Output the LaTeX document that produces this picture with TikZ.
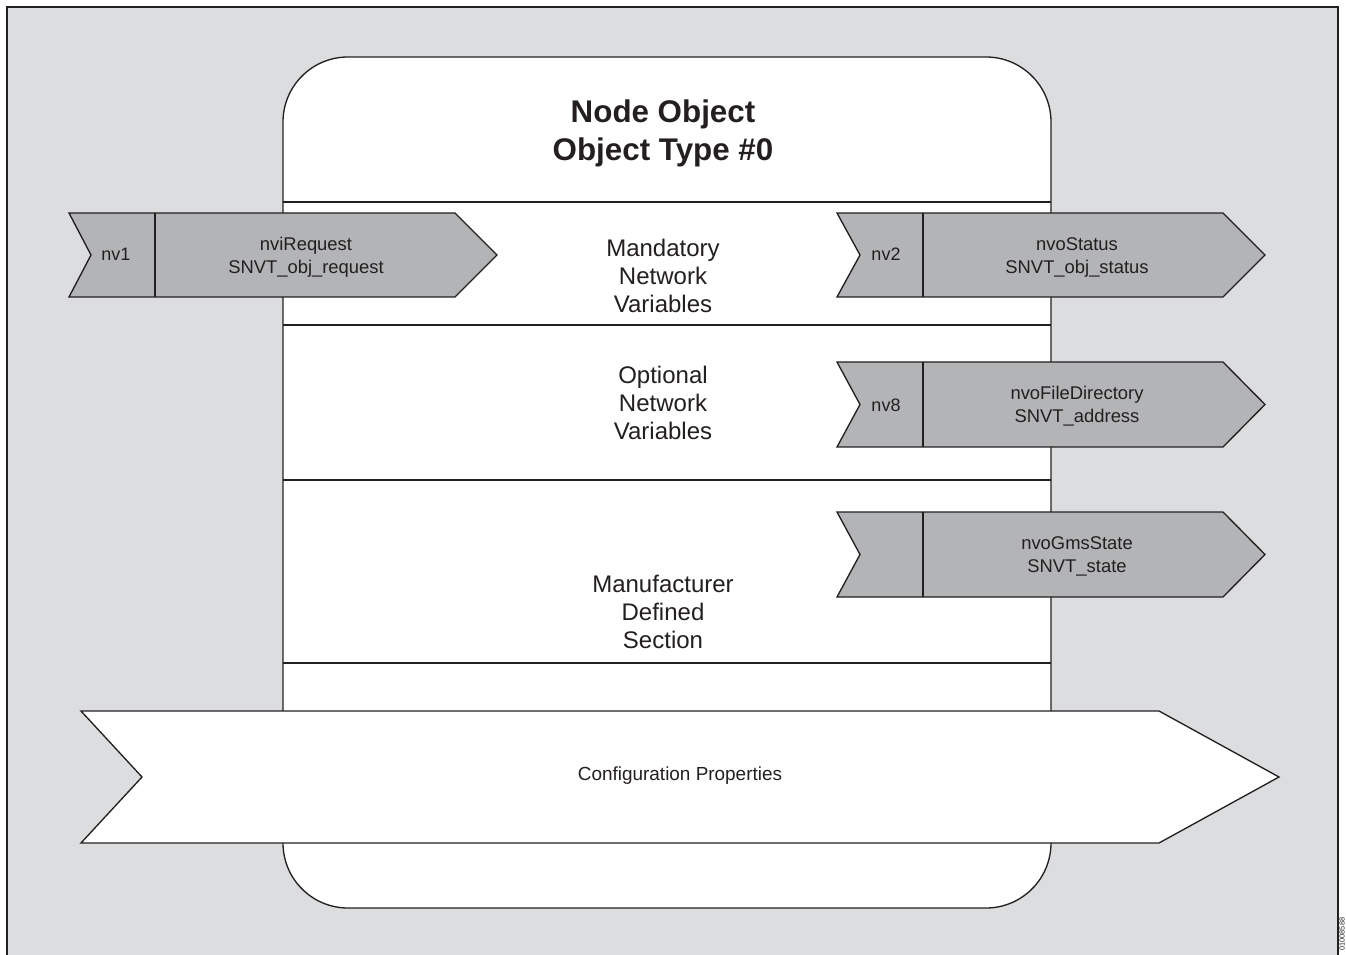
\documentclass[tikz,border=0pt]{standalone}
\usepackage{fontspec}
\setmainfont{Liberation Sans}
\definecolor{bgc}{HTML}{DCDDDF}
\definecolor{nvc}{HTML}{B2B4B6}
\definecolor{ink}{HTML}{231F20}
\begin{document}
\begin{tikzpicture}[x=0.75pt,y=-0.75pt,
  frame/.style={draw=ink,line width=1.5pt},
  boxline/.style={draw=ink,line width=1pt},
  nvshape/.style={draw=ink,fill=nvc,line width=1pt,line join=miter},
  cfgshape/.style={draw=ink,fill=white,line width=1pt,line join=miter},
  title/.style={font=\fontsize{23.5}{28.5}\selectfont\bfseries,text=ink,align=center},
  section/.style={font=\fontsize{18}{21}\selectfont,text=ink,align=center},
  nvlabel/.style={font=\fontsize{13.8}{17.25}\selectfont,text=ink,align=center},
  cfglabel/.style={font=\fontsize{14.2}{17}\selectfont,text=ink},
  nvnum/.style={font=\fontsize{13.5}{15}\selectfont,text=ink}]
\useasboundingbox (0,0) rectangle (1346,955);
% background frame
\fill[bgc] (7,7) rectangle (1338,956);
\draw[frame] (7,956) -- (7,7) -- (1338,7) -- (1338,956);
% node object box
\draw[boxline,fill=white,rounded corners=65pt*0.75] (283,57) rectangle (1051,908);
\draw[boxline] (283,202) -- (1051,202);
\draw[boxline] (283,325) -- (1051,325);
\draw[boxline] (283,480) -- (1051,480);
\draw[boxline] (283,663) -- (1051,663);
\node[title] (ttl) at (663,133) {Node Object\\Object Type \#0};
\node[section] (mand) at (663,276) {Mandatory\\Network\\Variables};
\node[section] (opt) at (663,403) {Optional\\Network\\Variables};
\node[section] (manu) at (663,612) {Manufacturer\\Defined\\Section};
% nv1
\draw[nvshape] (69,213) -- (455,213) -- (497,255) -- (455,297) -- (69,297) -- (91,255) -- cycle;
\draw[boxline] (155,213) -- (155,297);
\node[nvnum] (n1) at (116,254) {nv1};
\node[nvlabel] (l1) at (306,257) {nviRequest\\SNVT\_obj\_request};
% nv2
\draw[nvshape] (837,213) -- (1223,213) -- (1265,255) -- (1223,297) -- (837,297) -- (860,255) -- cycle;
\draw[boxline] (923,213) -- (923,297);
\node[nvnum] (n2) at (886,254) {nv2};
\node[nvlabel] (l2) at (1077,257) {nvoStatus\\SNVT\_obj\_status};
% nv8
\draw[nvshape] (837,362) -- (1223,362) -- (1265,404.5) -- (1223,447) -- (837,447) -- (860,404.5) -- cycle;
\draw[boxline] (923,362) -- (923,447);
\node[nvnum] (n8) at (886,405) {nv8};
\node[nvlabel] (l8) at (1077,406) {nvoFileDirectory\\SNVT\_address};
% gms
\draw[nvshape] (837,512) -- (1223,512) -- (1265,554.5) -- (1223,597) -- (837,597) -- (860,554.5) -- cycle;
\draw[boxline] (923,512) -- (923,597);
\node[nvlabel] (lg) at (1077,556) {nvoGmsState\\SNVT\_state};
% configuration properties
\draw[cfgshape] (81,711) -- (1159,711) -- (1279,777) -- (1159,843) -- (81,843) -- (142,777) -- cycle;
\node[cfglabel] (cfg) at (680,776) {Configuration Properties};
% reference code
\node[font=\fontsize{5.5}{6}\selectfont,text=ink,rotate=90,anchor=west,inner sep=1pt] (code) at (1342,952) {01008588};
\end{tikzpicture}
\end{document}
